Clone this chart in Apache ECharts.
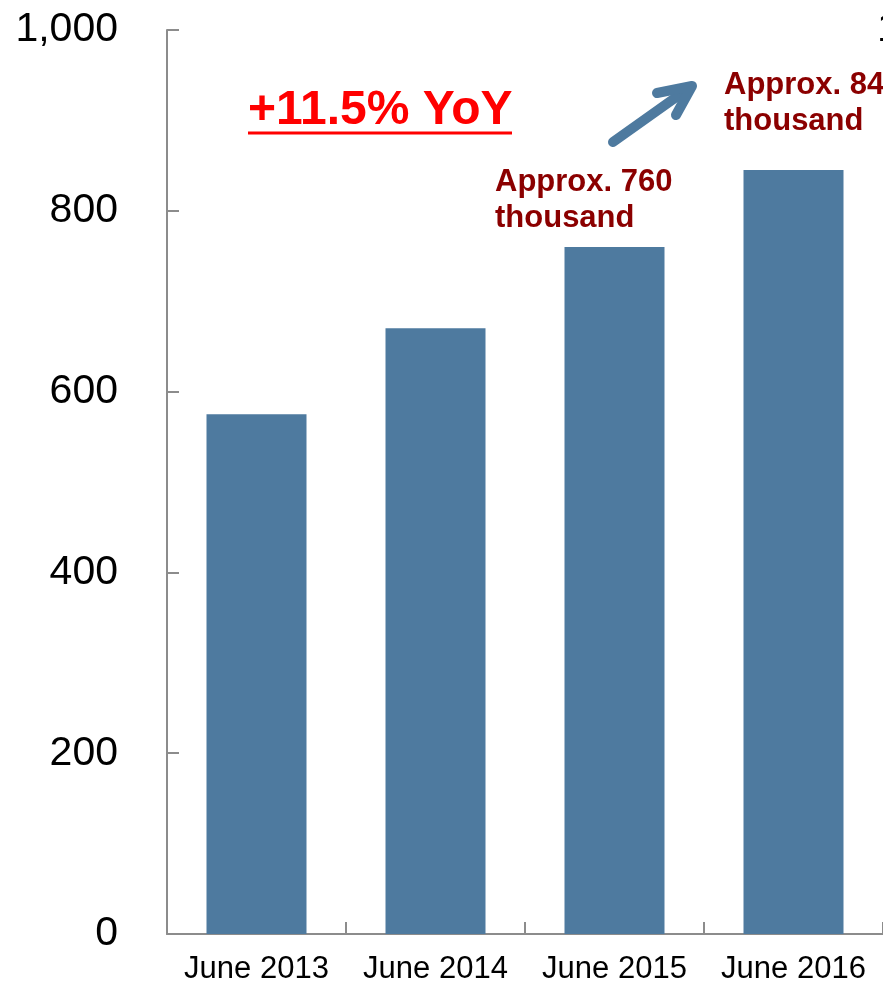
<!DOCTYPE html>
<html>
<head>
<meta charset="utf-8">
<style>
  html, body { margin: 0; padding: 0; background: #ffffff; }
  #chart { width: 883px; height: 986px; }
</style>
<script src="https://cdn.jsdelivr.net/npm/echarts@6/dist/echarts.min.js"></script>
</head>
<body>
<div id="chart"></div>
<script>
// Number of users at the end of June each year (thousands)
const categories = ['June 2013', 'June 2014', 'June 2015', 'June 2016'];
const users = [575, 670, 760, 845];
const yTicks = { min: 0, max: 1000, interval: 200 };
const growthLabel = '+11.5% YoY';

const FONT = '"Liberation Sans", Arial, sans-serif';
const BAR = '#4e7a9f';
const LABEL_RED = '#8b0000';

const approxText = v => 'Approx. ' + v + '\nthousand';

const chart = echarts.init(document.getElementById('chart'), null, { renderer: 'canvas' });

chart.setOption({
  animation: false,
  backgroundColor: '#ffffff',
  grid: { left: 167, top: 30, width: 720, height: 904, containLabel: false },
  xAxis: {
    type: 'category',
    data: categories,
    axisLine: { lineStyle: { color: '#8c8c8c', width: 2 } },
    axisTick: { show: true, inside: true, length: 12, interval: 0, alignWithLabel: false,
                lineStyle: { color: '#8c8c8c', width: 2 } },
    axisLabel: { color: '#000', fontFamily: FONT, fontSize: 31, margin: 20, interval: 0 },
    splitLine: { show: false }
  },
  yAxis: {
    type: 'value',
    min: yTicks.min,
    max: yTicks.max,
    interval: yTicks.interval,
    axisLine: { show: true, lineStyle: { color: '#8c8c8c', width: 2 } },
    axisTick: { show: true, inside: true, length: 12,
                lineStyle: { color: '#8c8c8c', width: 2 } },
    axisLabel: {
      color: '#000', fontFamily: FONT, fontSize: 41, margin: 49,
      formatter: v => v.toLocaleString('en-US')
    },
    splitLine: { show: false }
  },
  series: [{
    type: 'bar',
    data: users,
    barWidth: 100,
    itemStyle: { color: BAR },
    silent: true
  }],
  graphic: [
    // growth headline with underline
    {
      type: 'text', left: 248, top: 87,
      style: { text: growthLabel, fill: '#ff0000', font: 'bold 48px ' + FONT }
    },
    {
      type: 'line',
      shape: { x1: 248, y1: 133, x2: 512, y2: 133 },
      style: { stroke: '#ff0000', lineWidth: 3 }
    },
    // value callouts
    {
      type: 'text', x: 495, y: 200,
      style: { text: approxText(users[2]), fill: LABEL_RED, font: 'bold 31px ' + FONT,
               lineHeight: 36, verticalAlign: 'middle', align: 'left' }
    },
    {
      type: 'text', x: 724, y: 103,
      style: { text: approxText(users[3]), fill: LABEL_RED, font: 'bold 31px ' + FONT,
               lineHeight: 36, verticalAlign: 'middle', align: 'left' }
    },
    // growth arrow
    {
      type: 'line',
      shape: { x1: 613, y1: 142, x2: 689, y2: 88 },
      style: { stroke: BAR, lineWidth: 10, lineCap: 'round' }
    },
    {
      type: 'polyline',
      shape: { points: [[657, 93], [692, 86], [676, 115]] },
      style: { stroke: BAR, fill: null, lineWidth: 10, lineCap: 'round', lineJoin: 'round' }
    },
    // secondary axis label at the right edge
    {
      type: 'text', x: 877, y: 30,
      style: { text: '1,000', fill: '#000', font: '41px ' + FONT,
               verticalAlign: 'middle', align: 'left' }
    }
  ]
});
</script>
</body>
</html>
